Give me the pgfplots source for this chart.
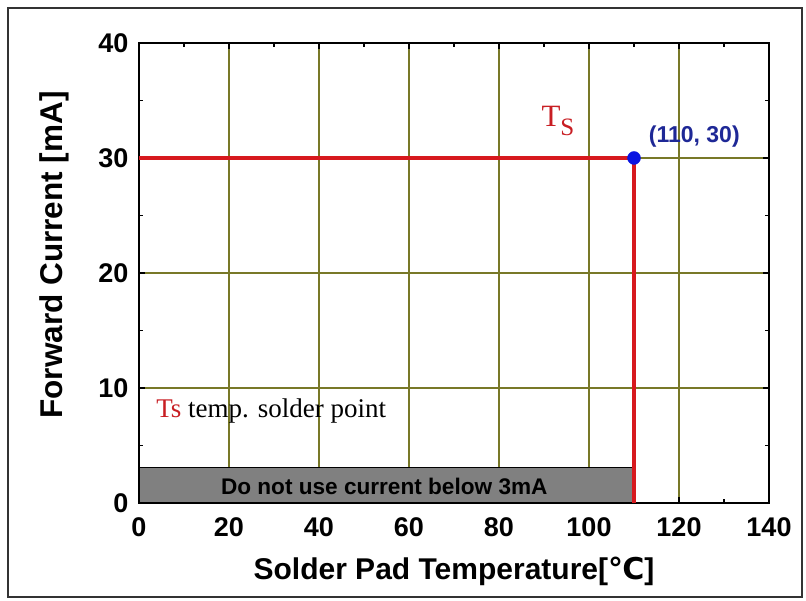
\documentclass[border=0pt]{standalone}
\usepackage{pgfplots}
\pgfplotsset{compat=1.18}
\usepackage{fontspec}
\setmainfont{Liberation Sans}
\newfontfamily\timesf{Liberation Serif}
\newfontfamily\djv{DejaVu Sans}
\definecolor{gridol}{RGB}{120,120,40}
\definecolor{tsred}{RGB}{200,30,35}
\definecolor{lnred}{RGB}{215,25,30}
\definecolor{ptblue}{RGB}{10,20,225}
\definecolor{lblblue}{RGB}{30,40,150}
\definecolor{boxgray}{RGB}{128,128,128}
\begin{document}
\begin{tikzpicture}
\useasboundingbox (0,0) rectangle (806pt,601pt);
\draw[line width=2pt, black!80] (8pt,4pt) rectangle (802pt,593pt);
\begin{axis}[
  at={(139pt,98pt)}, anchor=south west,
  width=630pt, height=460pt, scale only axis,
  xmin=0, xmax=140, ymin=0, ymax=40,
  xtick={0,20,...,140}, ytick={0,10,...,40},
  minor x tick num=1, minor y tick num=1,
  tick align=inside,
  major tick length=6pt, minor tick length=4pt,
  tick style={black, line width=1.2pt},
  grid=major,
  major grid style={gridol, line width=1.3pt},
  axis line style={black, line width=2pt},
  /pgf/number format/assume math mode=true,
  tick label style={font=\bfseries\fontsize{27}{32}\selectfont},
  xticklabel style={yshift=-11pt},
  yticklabel style={xshift=-7pt},
  xlabel={\bfseries Solder Pad Temperature[{\djv\bfseries ℃}]},
  ylabel={\bfseries Forward Current [mA]},
  label style={font=\bfseries\fontsize{30}{36}\selectfont},
  xlabel style={yshift=-14pt},
  ylabel style={font=\bfseries\fontsize{31.5}{36}\selectfont, yshift=23pt, xshift=18pt},
  clip=false,
]
\addplot[fill=boxgray, draw=black, line width=1.5pt] coordinates {(0,0) (110,0) (110,3.1) (0,3.1)} -- cycle;
\addplot[lnred, line width=4pt] coordinates {(0,30) (110,30) (110,0)};
\addplot[only marks, mark=*, mark size=6.5pt, ptblue] coordinates {(110,30)};
\node[font=\bfseries\fontsize{22.6}{26}\selectfont] at (axis cs:54.5,1.45) {Do not use current below 3mA};
\node[anchor=west, font=\timesf\fontsize{27}{32}\selectfont, inner sep=0pt] at (axis cs:3.8,8.0) {\textcolor{tsred}{Ts} temp. solder point};
\node[anchor=base west, font=\timesf\fontsize{31}{36}\selectfont, text=tsred, inner sep=0pt] at (axis cs:89.4,32.75) {T\raisebox{-0.3em}{\fontsize{25}{30}\selectfont S}};
\node[font=\bfseries\fontsize{23}{28}\selectfont, text=lblblue] at (axis cs:123.4,31.9) {(110, 30)};
\end{axis}
\end{tikzpicture}
\end{document}
